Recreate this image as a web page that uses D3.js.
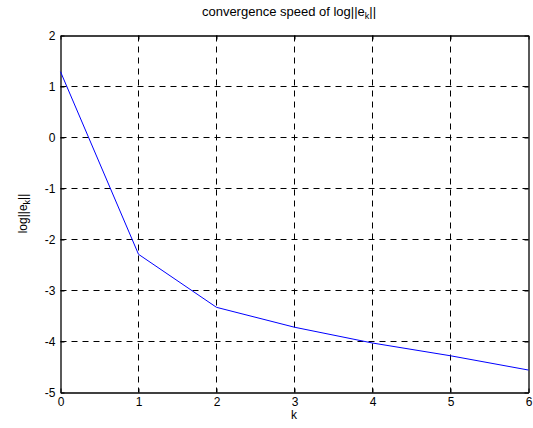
<!DOCTYPE html>
<meta charset="utf-8">
<style>
body { margin: 0; background: #fff; }
text { font-family: "Liberation Sans", Arial, sans-serif; }
</style>
<svg id="chart" width="533" height="428"></svg>
<script src="https://d3js.org/d3.v7.min.js"></script>
<script>
var kValues = [0, 1, 2, 3, 4, 5, 6];
var logErr = [1.29, -2.29, -3.33, -3.72, -4.03, -4.28, -4.56];
var xTicks = [0, 1, 2, 3, 4, 5, 6];
var yTicks = [-5, -4, -3, -2, -1, 0, 1, 2];

var svg = d3.select("#chart");
var margin = {top: 35, right: 5, bottom: 36, left: 60};
var width = 528 - margin.left;
var height = 392 - margin.top;
var g = svg.append("g").attr("transform", "translate(" + (margin.left + 0.5) + "," + (margin.top + 0.5) + ")");

var x = d3.scaleLinear().domain([0, 6]).range([0, width]);
var y = d3.scaleLinear().domain([-5, 2]).range([height, 0]);
var fmt = function(d) { return String(d); };

// grid
g.append("g").selectAll("line").data(xTicks.slice(1, -1)).enter().append("line")
  .attr("x1", function(d) { return Math.round(x(d)); }).attr("x2", function(d) { return Math.round(x(d)); })
  .attr("y1", 0).attr("y2", height)
  .attr("stroke", "#000").attr("stroke-dasharray", "6,5");
g.append("g").selectAll("line").data(yTicks.slice(1, -1)).enter().append("line")
  .attr("y1", function(d) { return Math.round(y(d)); }).attr("y2", function(d) { return Math.round(y(d)); })
  .attr("x1", 0).attr("x2", width)
  .attr("stroke", "#000").attr("stroke-dasharray", "6,5");

// axes (ticks inward, box on all sides)
function style(sel) {
  sel.attr("font-size", 12).attr("font-family", "'Liberation Sans', Arial, sans-serif");
  sel.select(".domain").attr("stroke", "#000").attr("stroke-width", 1.3);
  sel.selectAll("text").attr("fill", "#000");
  sel.selectAll(".tick line").attr("stroke", "#000");
}
g.append("g").attr("transform", "translate(0," + height + ")")
  .call(d3.axisBottom(x).tickValues(xTicks).tickSize(-4).tickSizeOuter(0).tickPadding(5).tickFormat(fmt))
  .call(style);
g.append("g")
  .call(d3.axisTop(x).tickValues(xTicks).tickSize(-4).tickSizeOuter(0).tickFormat(""))
  .call(style);
g.append("g")
  .call(d3.axisLeft(y).tickValues(yTicks).tickSize(-4).tickSizeOuter(0).tickPadding(5).tickFormat(fmt))
  .call(style);
g.append("g").attr("transform", "translate(" + width + ",0)")
  .call(d3.axisRight(y).tickValues(yTicks).tickSize(-4).tickSizeOuter(0).tickFormat(""))
  .call(style);

// line
var line = d3.line().x(function(d, i) { return x(kValues[i]); }).y(function(d) { return y(d); });
g.append("path").datum(logErr).attr("d", line)
  .attr("fill", "none").attr("stroke", "#0000ff").attr("stroke-width", 1);

// labels
var title = svg.append("text").attr("x", 289).attr("y", 16)
  .attr("text-anchor", "middle").attr("font-size", 13);
title.append("tspan").text("convergence speed of log||e");
title.append("tspan").attr("font-size", 9).attr("dy", 3).text("k");
title.append("tspan").attr("dy", -3).text("||");

svg.append("text").attr("x", margin.left + width / 2).attr("y", 419)
  .attr("text-anchor", "middle").attr("font-size", 12).text("k");

var ylab = svg.append("text").attr("transform", "translate(27," + (margin.top + height / 2) + ") rotate(-90)")
  .attr("text-anchor", "middle").attr("font-size", 12);
ylab.append("tspan").text("log||e");
ylab.append("tspan").attr("font-size", 9).attr("dy", 3).text("k");
ylab.append("tspan").attr("dy", -3).text("||");
</script>
